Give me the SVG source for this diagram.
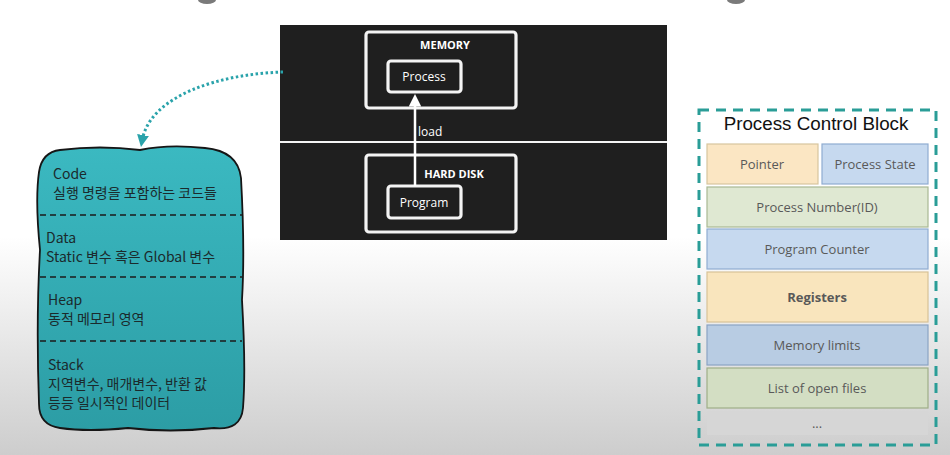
<svg xmlns="http://www.w3.org/2000/svg" width="950" height="455" viewBox="0 0 950 455">
<defs>
<linearGradient id="bg" x1="0" y1="0" x2="0" y2="1">
<stop offset="0" stop-color="#ffffff"/>
<stop offset="0.52" stop-color="#ffffff"/>
<stop offset="1" stop-color="#cdcdcd"/>
</linearGradient>
<linearGradient id="teal" x1="0" y1="0" x2="0" y2="1">
<stop offset="0" stop-color="#3bb9c1"/>
<stop offset="1" stop-color="#2c9da5"/>
</linearGradient>
<marker id="tealhead" viewBox="0 0 10 10" refX="5" refY="5" markerWidth="4" markerHeight="4" orient="auto">
<path d="M0 0 L10 5 L0 10 Z" fill="#2aa3ab"/>
</marker>
<marker id="whitehead" viewBox="0 0 10 10" refX="2" refY="5" markerWidth="5" markerHeight="5" orient="auto">
<path d="M0 0 L10 5 L0 10 Z" fill="#ffffff"/>
</marker>
</defs>
<style>
.dark{fill:#1f1f1f}
.wbox{fill:#1f1f1f;stroke:#f4f4f4;stroke-width:3.2;stroke-linejoin:round}
.wt{font-family:"Open Sans","Noto Sans",sans-serif;fill:#ffffff;font-size:12px}
.wtb{font-family:"Open Sans","Noto Sans",sans-serif;fill:#ffffff;font-size:11px;font-weight:bold}
.ht{font-family:"Noto Sans CJK KR","Noto Sans",sans-serif;fill:#1b2a2c;font-size:14px}
.sep{stroke:#1b1b1b;stroke-width:1.5;stroke-dasharray:6 4}
.pt{font-family:"Open Sans","Noto Sans",sans-serif;fill:#595959;font-size:13px;text-anchor:middle}
.cell{stroke-width:1.2}
</style>
<rect x="0" y="0" width="950" height="455" fill="url(#bg)"/>
<ellipse cx="207" cy="0" rx="9" ry="4" fill="#7a7a7a"/>
<ellipse cx="736" cy="0" rx="9" ry="4" fill="#7a7a7a"/>

<g id="panel">
<rect x="280" y="25" width="387" height="215" class="dark"/>
<line x1="280" y1="142" x2="667" y2="142" stroke="#f4f4f4" stroke-width="2"/>
</g>
<g id="memory">
<rect x="366" y="32" width="150" height="76" rx="3" class="wbox"/>
<text x="445" y="49" class="wtb" text-anchor="middle">MEMORY</text>
</g>
<g id="process">
<rect x="388" y="61" width="73" height="31" rx="3" class="wbox"/>
<text x="424" y="81" class="wt" text-anchor="middle">Process</text>
</g>
<g id="harddisk">
<rect x="366" y="155" width="150" height="77" rx="3" class="wbox"/>
<text x="454" y="178" class="wtb" text-anchor="middle">HARD DISK</text>
</g>
<g id="program">
<rect x="388" y="186" width="73" height="32" rx="3" class="wbox"/>
<text x="424" y="207" class="wt" text-anchor="middle">Program</text>
</g>

<g id="memlayout">
<path d="M60 150 Q100 145 140 150 Q168 144 205 148 Q238 151 241 178 Q245 250 242 300 Q246 370 243 408 Q241 431 214 428 Q170 433 128 428 Q88 432 60 428 Q39 425 39 404 Q36 320 40 250 Q35 200 39 172 Q42 152 60 150 Z" fill="url(#teal)" stroke="#161616" stroke-width="1.8"/>
<line x1="40" y1="215" x2="242" y2="215" class="sep"/>
<line x1="40" y1="277" x2="242" y2="277" class="sep"/>
<line x1="40" y1="341" x2="242" y2="341" class="sep"/>
<text x="53" y="179" class="ht">Code</text>
<text x="53" y="198" class="ht">실행 명령을 포함하는 코드들</text>
<text x="46" y="243" class="ht">Data</text>
<text x="46" y="262" class="ht">Static 변수 혹은 Global 변수</text>
<text x="48" y="305" class="ht">Heap</text>
<text x="48" y="324" class="ht">동적 메모리 영역</text>
<text x="48" y="370" class="ht">Stack</text>
<text x="48" y="389" class="ht">지역변수, 매개변수, 반환 값</text>
<text x="48" y="408" class="ht">등등 일시적인 데이터</text>
</g>

<g id="pcb">
<rect x="699" y="110" width="237" height="335" fill="none" stroke="#2a9d97" stroke-width="3" stroke-dasharray="10 7"/>
<text x="816" y="130" font-family="Liberation Sans, Arial, sans-serif" font-size="18.8" fill="#111" text-anchor="middle">Process Control Block</text>
<rect x="707" y="144" width="111" height="40" fill="#fbe6c3" stroke="#d8c59e" class="cell"/>
<text x="762" y="169" class="pt">Pointer</text>
<rect x="822" y="144" width="106" height="40" fill="#c6d9ef" stroke="#8facd1" class="cell"/>
<text x="875" y="169" class="pt">Process State</text>
<rect x="707" y="187" width="221" height="40" fill="#dfe8d2" stroke="#a9b893" class="cell"/>
<text x="817" y="212" class="pt">Process Number(ID)</text>
<rect x="707" y="229" width="221" height="40" fill="#c6d9ef" stroke="#8facd1" class="cell"/>
<text x="817" y="254" class="pt">Program Counter</text>
<rect x="707" y="272" width="221" height="50" fill="#f9e5bd" stroke="#d7c297" class="cell"/>
<text x="817" y="302" class="pt" font-weight="bold" fill="#4a4a4a">Registers</text>
<rect x="707" y="325" width="221" height="40" fill="#b8cce3" stroke="#8aa3c4" class="cell"/>
<text x="817" y="350" class="pt">Memory limits</text>
<rect x="707" y="368" width="221" height="40" fill="#d3dec3" stroke="#9fae88" class="cell"/>
<text x="817" y="393" class="pt">List of open files</text>
<rect x="707" y="411" width="221" height="24" fill="#d6d6d6"/>
<text x="817" y="428" class="pt" font-size="10">...</text>
</g>

<g id="connectors">
<path d="M283 72 C220 74 150 95 142 141" fill="none" stroke="#2aa3ab" stroke-width="3" stroke-dasharray="2.5 2.5" marker-end="url(#tealhead)"/>
<line x1="415" y1="186" x2="415" y2="104" stroke="#ffffff" stroke-width="2.5" marker-end="url(#whitehead)"/>
<text x="418" y="136" class="wt" font-size="11">load</text>
</g>
</svg>
